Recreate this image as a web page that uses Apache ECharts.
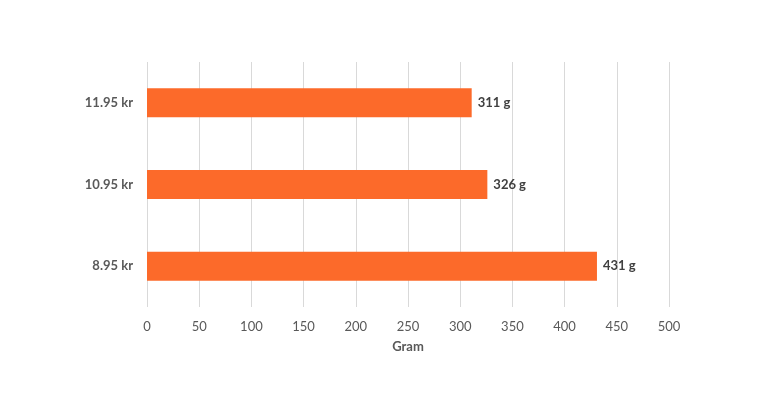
<!DOCTYPE html>
<html><head><meta charset="utf-8">
<script src="https://cdn.jsdelivr.net/npm/echarts@6/dist/echarts.min.js"></script>
<style>html,body{margin:0;padding:0;background:#fff}#c{width:780px;height:413px}</style>
</head><body><div id="c"></div>
<script>
const categories = ['8.95 kr', '10.95 kr', '11.95 kr'];
const grams = [431, 326, 311];
const xTicks = [0, 50, 100, 150, 200, 250, 300, 350, 400, 450, 500];
const axisName = 'Gram';

const chart = echarts.init(document.getElementById('c'));
chart.setOption({
  animation: false,
  textStyle: { fontFamily: 'Lato' },
  grid: { left: 147, right: 111, top: 62, bottom: 106, containLabel: false },
  xAxis: {
    type: 'value', min: xTicks[0], max: xTicks[xTicks.length - 1], interval: 50,
    name: axisName, nameLocation: 'middle', nameGap: 33,
    nameTextStyle: { color: '#595959', fontWeight: 'bold', fontSize: 13, fontFamily: 'Lato' },
    axisLine: { show: false }, axisTick: { show: false },
    axisLabel: { color: '#595959', fontSize: 13, margin: 13, fontFamily: 'Lato' },
    splitLine: { show: true, lineStyle: { color: '#d9d9d9', width: 1 } }
  },
  yAxis: {
    type: 'category', data: categories,
    axisLine: { show: false }, axisTick: { show: false },
    axisLabel: { color: '#595959', fontWeight: 'bold', fontSize: 13, margin: 14, fontFamily: 'Lato' }
  },
  series: [{
    type: 'bar', data: grams, barWidth: 29,
    itemStyle: { color: '#FC6A2A' },
    label: { show: true, position: 'right', distance: 6, formatter: p => p.value + ' g',
      color: '#404040', fontWeight: 'bold', fontSize: 13, fontFamily: 'Lato' }
  }]
});
</script></body></html>
